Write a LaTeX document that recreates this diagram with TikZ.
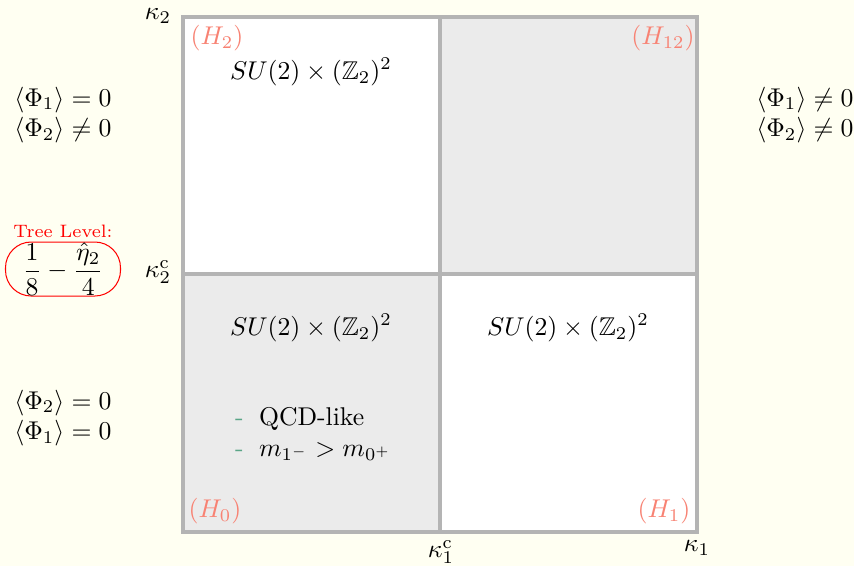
\documentclass[tikz,border=0pt]{standalone}
\usepackage{amsmath}
\usepackage{amssymb}
\usepackage{xcolor}
\usepackage{tikz}
\usetikzlibrary{positioning}
\definecolor{bgyellow}{RGB}{255,255,242}
\definecolor{phasegray}{RGB}{235,235,235}
\definecolor{framegray}{RGB}{180,180,180}
\definecolor{hlabel}{RGB}{248,130,115}
\definecolor{dashgreen}{RGB}{90,165,135}
\tikzstyle{frame}   = [draw=framegray, line width=1.2pt]
\tikzstyle{broken}  = [fill=phasegray]
\tikzstyle{hname}   = [text=hlabel]
\tikzstyle{vev}     = [align=left]
\tikzstyle{treebox} = [draw=red, rounded corners=10pt, minimum width=115*0.01369cm, minimum height=54*0.01369cm, inner sep=0pt]
\newcommand{\sym}{$SU(2)\times(\mathbb{Z}_2)^2$}
\newcommand{\bul}{{\color{dashgreen}-}\hspace{6pt}}

\begin{document}
\begin{tikzpicture}[x=0.01369cm, y=-0.01369cm]
    % page
    \fill[bgyellow] (0,0) rectangle (854,566);
    \useasboundingbox (0,0) rectangle (854,566);

    % phases
    \fill[broken] (183,274) rectangle (440,532);
    \fill[broken] (440,17)  rectangle (697,274);
    \fill[white]  (183,17)  rectangle (440,274);
    \fill[white]  (440,274) rectangle (697,532);
    \draw[frame] (183,17) rectangle (697,532);
    \draw[frame] (440,17) -- (440,532);
    \draw[frame] (183,274) -- (697,274);

    % axes
    \node (k2)  at (158,16)  {$\kappa_2$};
    \node (k2c) at (158,272) {$\kappa_2^{\mathrm{c}}$};
    \node (k1c) at (441,552) {$\kappa_1^{\mathrm{c}}$};
    \node (k1)  at (697,548) {$\kappa_1$};

    % phase names
    \node (h2)  [hname] at (217,38)  {$(H_2)$};
    \node (h12) [hname] at (663,38)  {$(H_{12})$};
    \node (h0)  [hname] at (215,511) {$(H_0)$};
    \node (h1)  [hname] at (664,511) {$(H_1)$};

    % symmetries
    \node (s2) at (311,72)  {\sym};
    \node (s0) at (311,328) {\sym};
    \node (s1) at (568,328) {\sym};
    \node (qcd) [vev, anchor=west] at (226,434) {\bul QCD-like\\ \bul $m_{1^-}>m_{0^+}$};

    % vevs
    \node (v2)  [vev] at (63,115)  {$\langle\Phi_1\rangle=0$\\ $\langle\Phi_2\rangle\neq0$};
    \node (v0)  [vev] at (63,418)  {$\langle\Phi_2\rangle=0$\\ $\langle\Phi_1\rangle=0$};
    \node (v12) [vev] at (805,115) {$\langle\Phi_1\rangle\neq0$\\ $\langle\Phi_2\rangle\neq0$};

    % tree level
    \node (tl)  [treebox] at (63,269) {$\dfrac{1}{8}-\dfrac{\hat{\eta}_2}{4}$};
    \node (tlt) [text=red, font=\scriptsize] at (63,231) {Tree Level:};
\end{tikzpicture}
\end{document}
